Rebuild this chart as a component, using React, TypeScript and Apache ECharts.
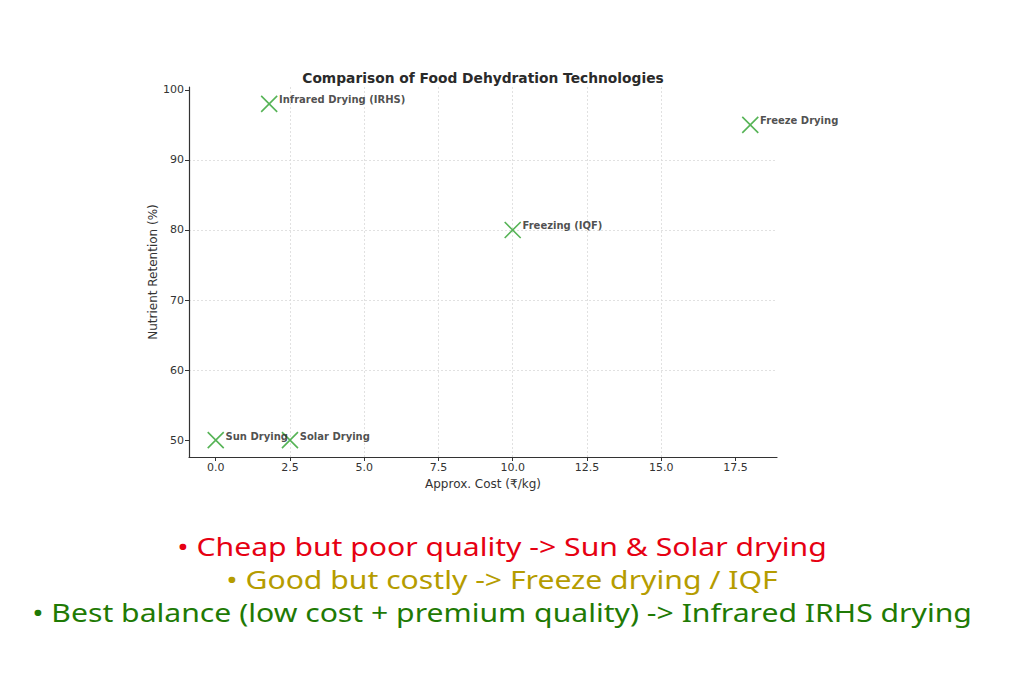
import React, { useEffect, useRef } from "react";
import * as echarts from "echarts";

const methodNames = ["Sun Drying", "Solar Drying", "Infrared Drying (IRHS)", "Freezing (IQF)", "Freeze Drying"];
const costValues = [0, 2.5, 1.8, 10, 18];
const retentionValues = [50, 50, 98, 80, 95];
const xTickValues = [0, 2.5, 5, 7.5, 10, 12.5, 15, 17.5];
const yTickValues = [50, 60, 70, 80, 90, 100];
const noteLines = [
  "• Cheap but poor quality -> Sun & Solar drying",
  "• Good but costly -> Freeze drying / IQF",
  "• Best balance (low cost + premium quality) -> Infrared IRHS drying",
];
const noteColors = ["#e60012", "#b59c00", "#1f7a05"];

const FONT = "DejaVu Sans";

export default function App() {
  const ref = useRef<HTMLDivElement>(null);
  useEffect(() => {
    const chart = echarts.init(ref.current!, undefined, { renderer: "svg" });
    const data = methodNames.map((n, i) => ({ name: n, value: [costValues[i], retentionValues[i]] }));
    chart.setOption({
      animation: false,
      backgroundColor: "#ffffff",
      title: {
        text: "Comparison of Food Dehydration Technologies",
        left: 478,
        top: 66,
        textAlign: "center",
        textStyle: { fontFamily: FONT, fontSize: 13.8, fontWeight: "bold", color: "#2a2a2a" },
      },
      grid: { left: 189, top: 87, right: 247, bottom: 226, containLabel: false },
      xAxis: {
        type: "value",
        min: -0.9,
        max: 18.9,
        name: "Approx. Cost (₹/kg)",
        nameLocation: "middle",
        nameGap: 20,
        nameTextStyle: { fontFamily: FONT, fontSize: 12, color: "#333" },
        axisLine: { show: true, onZero: false, lineStyle: { color: "#333", width: 1.2 } },
        axisTick: { show: true, length: 4, lineStyle: { color: "#333" }, customValues: xTickValues },
        axisLabel: {
          fontFamily: FONT,
          fontSize: 11,
          color: "#333",
          margin: 5,
          customValues: xTickValues,
          formatter: (v: number) => v.toFixed(1),
        },
        splitLine: { show: true, showMinLine: false, showMaxLine: false, lineStyle: { color: "#d9d9d9", type: [2, 2], width: 0.8 } },
      },
      yAxis: {
        type: "value",
        min: 47.6,
        max: 100.4,
        name: "Nutrient Retention (%)",
        nameLocation: "middle",
        nameGap: 36,
        nameMoveOverlap: false,
        nameTextStyle: { fontFamily: FONT, fontSize: 12, color: "#333", verticalAlign: "middle" },
        axisLine: { show: true, onZero: false, lineStyle: { color: "#333", width: 1.2 } },
        axisTick: { show: true, length: 4, lineStyle: { color: "#333" }, customValues: yTickValues },
        axisLabel: {
          fontFamily: FONT,
          fontSize: 11,
          color: "#333",
          margin: 5,
          customValues: yTickValues,
        },
        splitLine: { show: true, showMinLine: false, showMaxLine: false, lineStyle: { color: "#d9d9d9", type: [2, 2], width: 0.8 } },
      },
      series: [
        {
          type: "scatter",
          data,
          symbol: "path://M0,0L10,10M10,0L0,10",
          symbolSize: 16,
          itemStyle: { color: "rgba(0,0,0,0)", borderColor: "#2ca02c", borderWidth: 1.6 },
          label: {
            show: true,
            position: "right",
            distance: 1,
            offset: [0, -4],
            formatter: (p: any) => p.name,
            fontFamily: FONT,
            fontSize: 10,
            fontWeight: "bold",
            color: "#222",
          },
        },
      ],
      graphic: noteLines.map((t, i) => ({
        type: "text",
        x: 502,
        y: 546 + i * 33,
        scaleX: 1.16,
        style: {
          text: t,
          fill: noteColors[i],
          fontFamily: "Noto Sans",
          fontSize: 26,
          textAlign: "center",
          textVerticalAlign: "middle",
        },
      })),
    });
    return () => chart.dispose();
  }, []);
  return <div ref={ref} style={{ position: "fixed", left: 0, top: 0, width: 1024, height: 683 }} />;
}
